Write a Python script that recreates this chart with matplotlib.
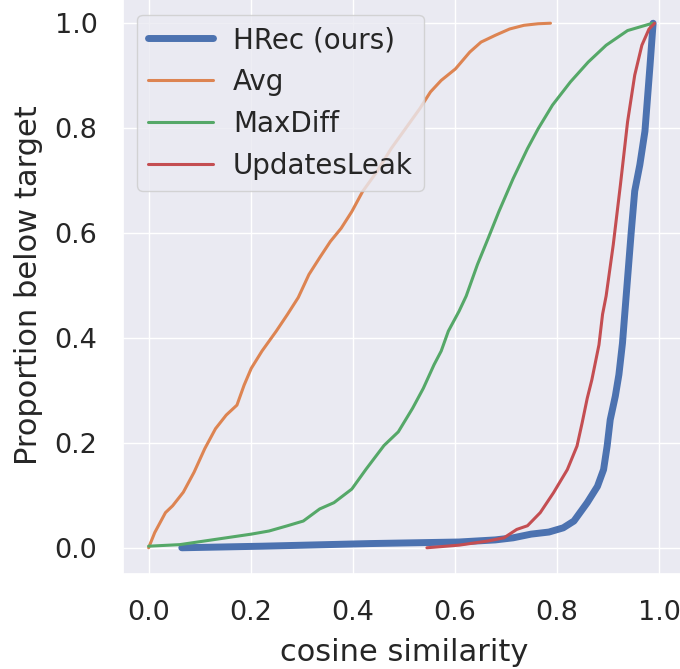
import matplotlib
matplotlib.use("Agg")
import matplotlib.pyplot as plt
import seaborn as sns

# values (cosine similarity vs proportion below)
hrec_x = [0.065, 0.222, 0.433, 0.608, 0.679, 0.714, 0.749, 0.784, 0.812, 0.833,
          0.859, 0.879, 0.891, 0.898, 0.904, 0.914, 0.921, 0.928, 0.935, 0.945,
          0.952, 0.962, 0.972, 0.982, 0.988]
hrec_y = [0.0, 0.003, 0.008, 0.011, 0.015, 0.019, 0.026, 0.030, 0.038, 0.051,
          0.086, 0.117, 0.149, 0.194, 0.244, 0.289, 0.330, 0.390, 0.477, 0.600,
          0.680, 0.730, 0.794, 0.920, 1.0]

avg_x = [0.0, 0.012, 0.033, 0.047, 0.068, 0.089, 0.110, 0.131, 0.152, 0.173,
         0.187, 0.201, 0.222, 0.250, 0.272, 0.293, 0.314, 0.335, 0.356, 0.377,
         0.398, 0.419, 0.447, 0.475, 0.503, 0.531, 0.552, 0.573, 0.601, 0.629,
         0.651, 0.679, 0.707, 0.735, 0.763, 0.787]
avg_y = [0.0, 0.029, 0.067, 0.080, 0.106, 0.144, 0.189, 0.227, 0.253, 0.272,
         0.310, 0.342, 0.375, 0.413, 0.445, 0.477, 0.521, 0.553, 0.584, 0.609,
         0.641, 0.679, 0.717, 0.761, 0.799, 0.837, 0.869, 0.891, 0.913, 0.945,
         0.964, 0.977, 0.989, 0.996, 0.999, 1.0]

maxdiff_x = [0.0, 0.061, 0.110, 0.152, 0.201, 0.236, 0.272, 0.303, 0.335, 0.363,
             0.398, 0.426, 0.461, 0.489, 0.517, 0.538, 0.559, 0.573, 0.587, 0.608,
             0.622, 0.644, 0.665, 0.686, 0.714, 0.742, 0.763, 0.791, 0.826, 0.861,
             0.896, 0.938, 0.987]
maxdiff_y = [0.003, 0.006, 0.013, 0.019, 0.026, 0.032, 0.042, 0.051, 0.074, 0.086,
             0.112, 0.150, 0.195, 0.221, 0.266, 0.304, 0.349, 0.375, 0.413, 0.451,
             0.480, 0.540, 0.590, 0.641, 0.704, 0.761, 0.799, 0.844, 0.888, 0.926,
             0.958, 0.986, 1.0]

leak_x = [0.545, 0.608, 0.665, 0.696, 0.721, 0.742, 0.767, 0.793, 0.820, 0.839,
          0.849, 0.859, 0.868, 0.882, 0.889, 0.896, 0.910, 0.924, 0.938, 0.952,
          0.966, 0.980, 0.991]
leak_y = [0.0, 0.005, 0.013, 0.019, 0.035, 0.042, 0.067, 0.105, 0.149, 0.194,
          0.238, 0.285, 0.320, 0.387, 0.445, 0.480, 0.578, 0.692, 0.812, 0.901,
          0.958, 0.989, 1.0]

sns.set_theme(style="darkgrid")
pal = sns.color_palette("deep")

fig = plt.figure(figsize=(6.8, 6.69), dpi=100)
ax = fig.add_axes([0.181, 0.142, 0.826, 0.8625])

ax.plot(hrec_x, hrec_y, color=pal[0], lw=5, label="HRec (ours)")
ax.plot(avg_x, avg_y, color=pal[1], lw=2.2, label="Avg")
ax.plot(maxdiff_x, maxdiff_y, color=pal[2], lw=2.2, label="MaxDiff")
ax.plot(leak_x, leak_y, color=pal[3], lw=2.2, label="UpdatesLeak")

ax.set_xlim(-0.05, 1.05)
ax.set_ylim(-0.05, 1.05)
ax.set_xticks([0.0, 0.2, 0.4, 0.6, 0.8, 1.0])
ax.set_yticks([0.0, 0.2, 0.4, 0.6, 0.8, 1.0])
ax.tick_params(labelsize=19.5)
ax.tick_params(axis="x", pad=13)
ax.tick_params(axis="y", pad=12.5)
ax.set_xlabel("cosine similarity", fontsize=22, labelpad=8.5)
ax.set_ylabel("Proportion below target", fontsize=22, labelpad=8.5)
ax.legend(loc="upper left", bbox_to_anchor=(0, 0.993), fontsize=20,
          handlelength=2.35, handletextpad=0.7)

fig.savefig("out.png", dpi=100)
